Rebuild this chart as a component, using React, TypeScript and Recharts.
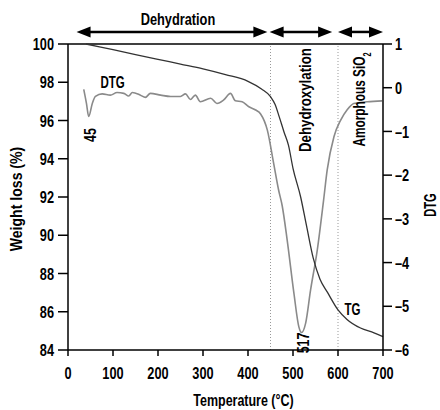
import React from "react";
import {
  LineChart,
  Line,
  XAxis,
  YAxis,
  ReferenceLine,
  ReferenceDot,
} from "recharts";

const FONT = "'Liberation Sans', Arial, sans-serif";

// TG curve (weight loss, left axis)
const tgTemp = [40, 100, 150, 200, 250, 300, 350, 400, 430, 450, 460, 470, 480, 490, 500, 517, 530, 545, 560, 577, 600, 620, 650, 680, 700];
const tgWeight = [100, 99.7, 99.45, 99.2, 98.95, 98.7, 98.4, 98.05, 97.65, 97.25, 96.85, 96.15, 95.4, 94.7, 93.5, 92.0, 90.5, 88.8, 87.7, 87.0, 86.1, 85.6, 85.15, 84.9, 84.7];

// DTG curve (right axis)
const dtgTemp = [35, 41, 46, 54, 61, 76, 94, 109, 124, 135, 143, 161, 172, 183, 206, 228, 250, 261, 272, 283, 294, 317, 331, 346, 361, 372, 387, 401, 417, 428, 443, 457, 468, 476, 487, 502, 513, 519, 528, 539, 554, 568, 576, 591, 606, 620, 635, 665, 698];
const dtgValue = [-0.04, -0.36, -0.66, -0.36, -0.2, -0.14, -0.17, -0.11, -0.13, -0.19, -0.11, -0.17, -0.22, -0.13, -0.17, -0.2, -0.2, -0.14, -0.27, -0.17, -0.32, -0.24, -0.36, -0.28, -0.13, -0.3, -0.32, -0.43, -0.51, -0.6, -0.97, -1.73, -2.34, -2.7, -3.48, -4.7, -5.47, -5.6, -5.39, -4.63, -3.71, -2.57, -1.88, -1.12, -0.74, -0.51, -0.36, -0.32, -0.3];

const xTicks = [0, 100, 200, 300, 400, 500, 600, 700];
const weightTicks = [84, 86, 88, 90, 92, 94, 96, 98, 100];
const dtgTicks = [-6, -5, -4, -3, -2, -1, 0, 1];

// stage ranges shown as arrows above the plot, and stage boundaries
const stageNames = ["Dehydration", "", ""];
const stageFrom = [19, 448, 600];
const stageTo = [443, 587, 700];
const stageBounds = [450, 600];

const tgData = tgTemp.map((t, i) => ({ t, w: tgWeight[i] }));
const dtgData = dtgTemp.map((t, i) => ({ t, d: dtgValue[i] }));

// condensed-looking text: squeeze horizontally since no narrow font is installed
const CText = ({ x, y, children, size = 16, sx = 0.78, rotate = false, anchor = "middle", dy = "0.36em" }: any) => (
  <g transform={`translate(${x} ${y})${rotate ? " rotate(-90)" : ""} scale(${sx} 1)`}>
    <text x={0} y={0} dy={dy} textAnchor={anchor} fontFamily={FONT} fontWeight={700} fontSize={size} fill="#000">
      {children}
    </text>
  </g>
);

const Tick = (props: any) => {
  const { x, y, payload, textAnchor, orientation } = props;
  const v = payload.value;
  const label = v < 0 ? `\u2013${-v}` : `${v}`;
  return (
    <CText x={x} y={y} size={17} sx={0.75} anchor={textAnchor} dy={orientation === "bottom" ? "0.71em" : "0.36em"}>
      {label}
    </CText>
  );
};

const DoubleArrow = (props: any) => {
  const { x1, y1, x2 } = props;
  const h = 14;
  const w = 5.5;
  return (
    <g>
      <line x1={x1 + h - 2} y1={y1} x2={x2 - h + 2} y2={y1} stroke="#000" strokeWidth={2.5} />
      <polygon points={`${x1},${y1} ${x1 + h},${y1 - w} ${x1 + h},${y1 + w}`} fill="#000" />
      <polygon points={`${x2},${y1} ${x2 - h},${y1 - w} ${x2 - h},${y1 + w}`} fill="#000" />
    </g>
  );
};

const note = (content: React.ReactNode, rotate: boolean, sx = 0.78) => (p: any) => (
  <CText x={p.cx} y={p.cy} rotate={rotate} sx={sx}>
    {content}
  </CText>
);

const AxisTitle = ({ viewBox, value, side }: any) => {
  const { x, y, width, height } = viewBox;
  if (side === "bottom") {
    return <CText x={x + width / 2 + 18} y={y + 50} sx={0.78}>{value}</CText>;
  }
  const cx = side === "left" ? x + 8 : x + width - 2;
  const cy = y + height / 2 + (side === "right" ? 8 : 2);
  return (
    <CText x={cx} y={cy} rotate sx={side === "left" ? 0.88 : 0.7}>
      {value}
    </CText>
  );
};

export default function App() {
  const axisLine = { stroke: "#000", strokeWidth: 1.5 };
  return (
    <div style={{ position: "absolute", left: 0, top: 0, background: "#fff" }}>
      <LineChart width={440} height={410} margin={{ top: 44, right: 8, bottom: 10, left: 8 }}>
        <XAxis
          type="number"
          dataKey="t"
          domain={[0, 700]}
          ticks={xTicks}
          interval={0}
          height={50}
          tickSize={6}
          tickMargin={11}
          axisLine={axisLine}
          tickLine={axisLine}
          tick={<Tick />}
          label={{ value: "Temperature (°C)", content: (p: any) => <AxisTitle {...p} value="Temperature (°C)" side="bottom" /> }}
        />
        <YAxis
          yAxisId="w"
          domain={[84, 100]}
          ticks={weightTicks}
          interval={0}
          width={60}
          tickSize={10}
          tickMargin={4}
          axisLine={axisLine}
          tickLine={axisLine}
          tick={<Tick />}
          label={{ value: "Weight loss (%)", content: (p: any) => <AxisTitle {...p} value="Weight loss (%)" side="left" /> }}
        />
        <YAxis
          yAxisId="d"
          orientation="right"
          domain={[-6, 1]}
          ticks={dtgTicks}
          interval={0}
          width={49}
          tickSize={9}
          tickMargin={3}
          axisLine={axisLine}
          tickLine={axisLine}
          tick={<Tick />}
          label={{ value: "DTG", content: (p: any) => <AxisTitle {...p} value="DTG" side="right" /> }}
        />

        <ReferenceLine yAxisId="w" y={100} stroke="#000" strokeWidth={1.5} />
        {stageBounds.map((b) => (
          <ReferenceLine key={b} yAxisId="w" x={b} stroke="#999" strokeWidth={1} strokeDasharray="1 2" />
        ))}
        {stageNames.map((name, i) => (
          <ReferenceLine
            key={i}
            yAxisId="w"
            ifOverflow="visible"
            segment={[
              { x: stageFrom[i], y: 100.63 },
              { x: stageTo[i], y: 100.63 },
            ]}
            shape={DoubleArrow}
            label={
              name
                ? {
                    value: name,
                    content: (p: any) => (
                      <CText x={p.viewBox.x + p.viewBox.width / 2 + 6} y={p.viewBox.y - 13} sx={0.8}>
                        {name}
                      </CText>
                    ),
                  }
                : undefined
            }
          />
        ))}

        <Line
          yAxisId="d"
          data={dtgData}
          dataKey="d"
          type="monotone"
          stroke="#8a8a8a"
          strokeWidth={1.6}
          dot={false}
          isAnimationActive={false}
        />
        <Line
          yAxisId="w"
          data={tgData}
          dataKey="w"
          type="monotone"
          stroke="#333"
          strokeWidth={1.3}
          dot={false}
          isAnimationActive={false}
        />

        <ReferenceDot yAxisId="w" x={99} y={98.0} r={0} ifOverflow="visible" shape={note("DTG", false, 0.72)} />
        <ReferenceDot yAxisId="w" x={50} y={95.24} r={0} ifOverflow="visible" shape={note("45", true)} />
        <ReferenceDot yAxisId="w" x={522} y={84.37} r={0} ifOverflow="visible" shape={note("517", true)} />
        <ReferenceDot yAxisId="w" x={632} y={86.14} r={0} ifOverflow="visible" shape={note("TG", false, 0.72)} />
        <ReferenceDot yAxisId="w" x={527} y={97.07} r={0} ifOverflow="visible" shape={note("Dehydroxylation", true, 0.83)} />
        <ReferenceDot
          yAxisId="w"
          x={648}
          y={97.1}
          r={0}
          ifOverflow="visible"
          shape={note(
            <>
              <tspan>Amorphous SiO</tspan>
              <tspan baselineShift="sub" fontSize={10}>2</tspan>
            </>,
            true,
            0.74
          )}
        />
      </LineChart>
    </div>
  );
}
